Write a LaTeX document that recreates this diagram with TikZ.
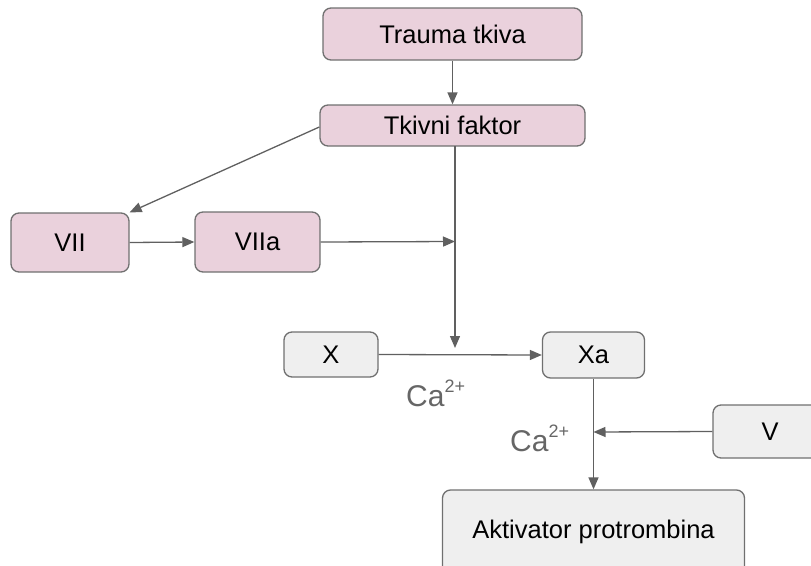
\documentclass[tikz,border=0pt]{standalone}
\usepackage{fontspec}
\setmainfont{Liberation Sans}
\usetikzlibrary{arrows.meta}
\definecolor{pinkfill}{HTML}{EAD1DC}
\definecolor{grayfill}{HTML}{EFEFEF}
\definecolor{edgecol}{HTML}{707070}
\definecolor{linecol}{HTML}{606060}
\definecolor{catext}{HTML}{666666}
\tikzset{
  box/.style={draw=edgecol, line width=1.3pt, rounded corners=8pt, inner sep=0pt,
    font=\fontsize{25.5}{29}\selectfont, text=black},
  pinkbox/.style={box, fill=pinkfill},
  graybox/.style={box, fill=grayfill},
  conn/.style={draw=linecol, line width=1.3pt, -{Triangle[length=12pt,width=10pt]}},
  ca/.style={text=catext, inner sep=0pt, anchor=base west}
}
\newcommand{\caion}{{\fontsize{30}{33}\selectfont Ca}\raisebox{14pt}{\fontsize{18}{20}\selectfont 2+}}
\begin{document}
\begin{tikzpicture}[x=1pt,y=-1pt]
\useasboundingbox (0,0) rectangle (811,565);
\node[pinkbox, minimum width=259pt, minimum height=52pt] (trauma) at (452.5,34) {Trauma tkiva};
\node[pinkbox, minimum width=265pt, minimum height=41pt] (tf) at (452.5,125.5) {Tkivni faktor};
\node[pinkbox, minimum width=118pt, minimum height=59pt] (vii) at (70,242.5) {VII};
\node[pinkbox, minimum width=125pt, minimum height=60pt] (viia) at (257.5,242) {VIIa};
\node[graybox, minimum width=94pt, minimum height=45pt] (x) at (331,354.5) {X};
\node[graybox, minimum width=102pt, minimum height=46pt] (xa) at (593.5,355) {Xa};
\node[graybox, minimum width=114pt, minimum height=53pt] (v) at (770,431.5) {V};
\node[graybox, minimum width=302pt, minimum height=84pt] (akt) at (593.5,532) {Aktivator protrombina};
\coordinate (tfout) at (455,146);
\coordinate (joinA) at (455,241.5);
\coordinate (joinB) at (455,348);
\coordinate (joinC) at (593.5,432);
\draw[conn] (trauma.south) -- (tf.north);
\draw[conn] (tf.west) ++(0,1.5) -- (vii.north east);
\draw[conn] (vii.east) -- (viia.west);
\draw[conn] (viia.east) -- (joinA);
\draw[conn] (tfout) -- (joinB);
\draw[conn] (x.east) -- (xa.west);
\draw[conn] (xa.south) -- (akt.north);
\draw[conn] (v.west) -- (joinC);
\node[ca] (ca1) at (406,406) {\caion};
\node[ca] (ca2) at (510,451) {\caion};
\end{tikzpicture}
\end{document}
